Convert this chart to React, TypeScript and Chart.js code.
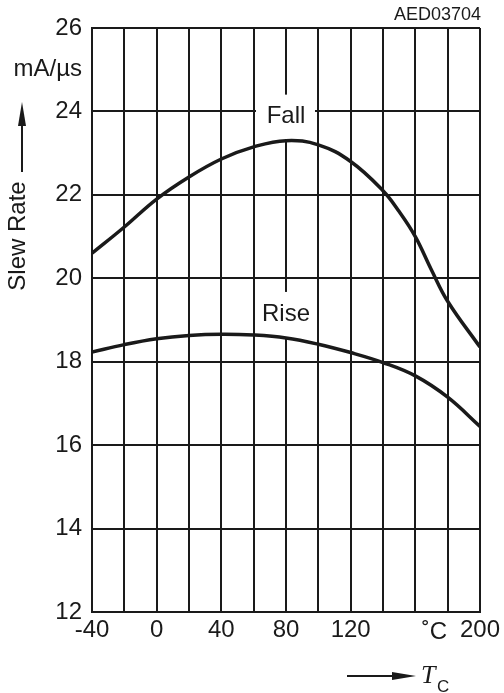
import React, { useEffect, useRef } from "react";
import { Chart, registerables } from "chart.js";

Chart.register(...registerables);

// Data
const fallTemps = [-40, -20, 0, 20, 40, 60, 80, 100, 120, 140, 150, 160, 170, 180, 200];
const fallValues = [20.6, 21.23, 21.9, 22.43, 22.86, 23.15, 23.3, 23.2, 22.8, 22.1, 21.6, 21.0, 20.2, 19.45, 18.35];
const riseTemps = [-40, -20, 0, 20, 40, 60, 80, 100, 120, 140, 160, 180, 200];
const riseValues = [18.23, 18.41, 18.55, 18.63, 18.66, 18.64, 18.57, 18.42, 18.22, 17.98, 17.66, 17.15, 16.45];

const xTickLabels: Record<number, string> = { [-40]: "-40", 0: "0", 40: "40", 80: "80", 120: "120", 200: "200" };
const yTickLabels: Record<number, string> = { 12: "12", 14: "14", 16: "16", 18: "18", 20: "20", 22: "22", 24: "24", 25: "mA/µs", 26: "26" };

const seriesLabels = [
  { text: "Fall", temp: 80, series: 0 },
  { text: "Rise", temp: 80, series: 1 },
];

const SANS = "'Liberation Sans', Arial, sans-serif";
const SERIF = "'Liberation Serif', 'Times New Roman', serif";

const overlayPlugin = {
  id: "overlay",
  beforeDatasetsDraw(chart: any) {
    const { ctx } = chart;
    const xs = chart.scales.x;
    const ys = chart.scales.y;
    seriesLabels.forEach((l) => {
      const vals = l.series === 0 ? fallValues : riseValues;
      const temps = l.series === 0 ? fallTemps : riseTemps;
      const v = vals[temps.indexOf(l.temp)];
      const cx = xs.getPixelForValue(l.temp);
      const curveY = ys.getPixelForValue(v);
      const cy = curveY - 24;
      ctx.save();
      ctx.fillStyle = "#fff";
      ctx.fillRect(cx - 30, cy - 22, 59, curveY - (cy - 22));
      ctx.fillStyle = "#1a1a1a";
      ctx.font = `24px ${SANS}`;
      ctx.textAlign = "center";
      ctx.textBaseline = "middle";
      ctx.fillText(l.text, cx, cy);
      ctx.restore();
    });
  },
  afterDraw(chart: any) {
    const { ctx } = chart;
    const xs = chart.scales.x;
    ctx.save();
    ctx.fillStyle = "#1a1a1a";
    ctx.strokeStyle = "#1a1a1a";
    // °C unit label on x axis
    ctx.font = `24px ${SANS}`;
    ctx.textAlign = "center";
    ctx.textBaseline = "middle";
    ctx.fillText("˚C", xs.getPixelForValue(160) + 19, 632);
    // code top right
    ctx.font = `18px ${SANS}`;
    ctx.textAlign = "right";
    ctx.fillText("AED03704", 481, 15);
    // Slew Rate rotated
    ctx.save();
    ctx.translate(18, 236);
    ctx.rotate(-Math.PI / 2);
    ctx.font = `24px ${SANS}`;
    ctx.textAlign = "center";
    ctx.textBaseline = "middle";
    ctx.fillText("Slew Rate", 0, 0);
    ctx.restore();
    // up arrow
    ctx.lineWidth = 2;
    ctx.beginPath();
    ctx.moveTo(22, 172);
    ctx.lineTo(22, 120);
    ctx.stroke();
    ctx.beginPath();
    ctx.moveTo(22, 102);
    ctx.lineTo(18, 126);
    ctx.lineTo(26, 126);
    ctx.closePath();
    ctx.fill();
    // right arrow
    ctx.beginPath();
    ctx.moveTo(347, 676);
    ctx.lineTo(395, 676);
    ctx.stroke();
    ctx.beginPath();
    ctx.moveTo(416, 676);
    ctx.lineTo(392, 672);
    ctx.lineTo(392, 680);
    ctx.closePath();
    ctx.fill();
    // T_C
    ctx.textAlign = "left";
    ctx.textBaseline = "alphabetic";
    ctx.font = `italic 26px ${SERIF}`;
    ctx.fillText("T", 421, 683);
    ctx.font = `17px ${SANS}`;
    ctx.fillText("C", 437, 692);
    ctx.restore();
  },
};

export default function App() {
  const canvasRef = useRef<HTMLCanvasElement | null>(null);

  useEffect(() => {
    if (!canvasRef.current) return;
    const chart = new Chart(canvasRef.current, {
      type: "line",
      data: {
        datasets: [
          {
            label: "Fall",
            data: fallTemps.map((t, i) => ({ x: t, y: fallValues[i] })),
            borderColor: "#1a1a1a",
            borderWidth: 3.5,
            pointRadius: 0,
            tension: 0.4,
            fill: false,
          },
          {
            label: "Rise",
            data: riseTemps.map((t, i) => ({ x: t, y: riseValues[i] })),
            borderColor: "#1a1a1a",
            borderWidth: 3.5,
            pointRadius: 0,
            tension: 0.4,
            fill: false,
          },
        ],
      },
      options: {
        responsive: false,
        animation: false,
        layout: { padding: { top: 28, right: 22, left: 0, bottom: 0 } },
        plugins: { legend: { display: false }, tooltip: { enabled: false } },
        scales: {
          x: {
            type: "linear",
            min: -40,
            max: 200,
            afterFit: (s: any) => {
              s.height = 81;
            },
            border: { display: true, color: "#1a1a1a", width: 2 },
            grid: { color: "#1a1a1a", lineWidth: 2, drawTicks: false },
            ticks: {
              stepSize: 20,
              autoSkip: false,
              maxRotation: 0,
              padding: 4,
              color: "#1a1a1a",
              font: { family: SANS, size: 24 },
              callback: (v: any) => xTickLabels[v as number] ?? "",
            },
          },
          y: {
            type: "linear",
            min: 12,
            max: 26,
            afterFit: (s: any) => {
              s.width = 92;
            },
            border: { display: true, color: "#1a1a1a", width: 2 },
            grid: {
              color: (c: any) => (c.tick && c.tick.value % 2 === 0 ? "#1a1a1a" : "rgba(0,0,0,0)"),
              lineWidth: 2,
              drawTicks: false,
            },
            ticks: {
              stepSize: 1,
              autoSkip: false,
              padding: 10,
              color: "#1a1a1a",
              font: { family: SANS, size: 24 },
              callback: (v: any) => yTickLabels[v as number] ?? "",
            },
          },
        },
      },
      plugins: [overlayPlugin],
    });
    return () => chart.destroy();
  }, []);

  return (
    <div style={{ position: "absolute", left: 0, top: 0, width: 504, height: 693, background: "#fff" }}>
      <canvas ref={canvasRef} width={504} height={693} style={{ width: 504, height: 693, display: "block" }} />
    </div>
  );
}
